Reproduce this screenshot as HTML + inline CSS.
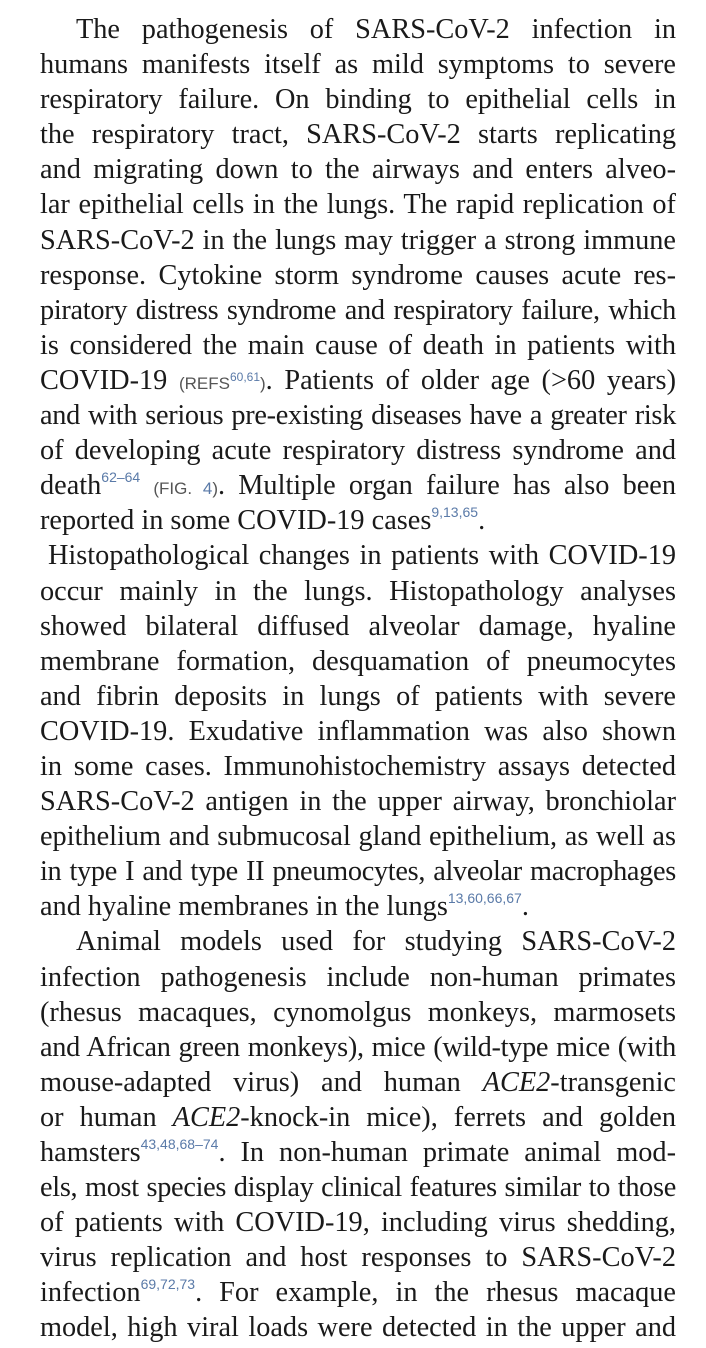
<!DOCTYPE html>
<html><head><meta charset="utf-8">
<style>
html,body{margin:0;padding:0;background:#fff;}
body{width:706px;height:1348px;overflow:hidden;}
#page{position:absolute;left:40px;top:12px;width:636px;font-family:"Liberation Serif",serif;font-size:28.3px;line-height:35.1px;color:#1a1a1a;}
.l{display:block;height:35.1px;white-space:nowrap;text-align:justify;text-align-last:justify;}
.e{text-align-last:left;}
.t{letter-spacing:-0.3px;}
.i1{padding-left:36px;}
.i2{padding-left:8px;}
sup{font-family:"Liberation Sans",sans-serif;font-size:14px;color:#5a7aa8;vertical-align:0;position:relative;top:-12px;line-height:0;letter-spacing:0;}
.r{font-family:"Liberation Sans",sans-serif;font-size:17px;color:#555;}
.r b{font-weight:normal;color:#5a7aa8;}
.r sup{font-size:12px;top:-8px;}
</style></head><body>
<div id="page">
<div class="l i1">The pathogenesis of SARS-CoV-2 infection in</div>
<div class="l">humans manifests itself as mild symptoms to severe</div>
<div class="l">respiratory failure. On binding to epithelial cells in</div>
<div class="l">the respiratory tract, SARS-CoV-2 starts replicating</div>
<div class="l">and migrating down to the airways and enters alveo-</div>
<div class="l">lar epithelial cells in the lungs. The rapid replication of</div>
<div class="l">SARS-CoV-2 in the lungs may trigger a strong immune</div>
<div class="l">response. Cytokine storm syndrome causes acute res-</div>
<div class="l t">piratory distress syndrome and respiratory failure, which</div>
<div class="l">is considered the main cause of death in patients with</div>
<div class="l">COVID-19 <span class="r">(REFS<sup>60,61</sup>)</span>. Patients of older age (&gt;60 years)</div>
<div class="l t">and with serious pre-existing diseases have a greater risk</div>
<div class="l">of developing acute respiratory distress syndrome and</div>
<div class="l">death<sup>62–64</sup> <span class="r">(FIG. <b>4</b>)</span>. Multiple organ failure has also been</div>
<div class="l e">reported in some COVID-19 cases<sup>9,13,65</sup>.</div>
<div class="l i2">Histopathological changes in patients with COVID-19</div>
<div class="l">occur mainly in the lungs. Histopathology analyses</div>
<div class="l">showed bilateral diffused alveolar damage, hyaline</div>
<div class="l">membrane formation, desquamation of pneumocytes</div>
<div class="l">and fibrin deposits in lungs of patients with severe</div>
<div class="l">COVID-19. Exudative inflammation was also shown</div>
<div class="l">in some cases. Immunohistochemistry assays detected</div>
<div class="l">SARS-CoV-2 antigen in the upper airway, bronchiolar</div>
<div class="l">epithelium and submucosal gland epithelium, as well as</div>
<div class="l t">in type I and type II pneumocytes, alveolar macrophages</div>
<div class="l e">and hyaline membranes in the lungs<sup>13,60,66,67</sup>.</div>
<div class="l i1">Animal models used for studying SARS-CoV-2</div>
<div class="l">infection pathogenesis include non-human primates</div>
<div class="l">(rhesus macaques, cynomolgus monkeys, marmosets</div>
<div class="l t">and African green monkeys), mice (wild-type mice (with</div>
<div class="l">mouse-adapted virus) and human <i>ACE2</i>-transgenic</div>
<div class="l">or human <i>ACE2</i>-knock-in mice), ferrets and golden</div>
<div class="l">hamsters<sup>43,48,68–74</sup>. In non-human primate animal mod-</div>
<div class="l t">els, most species display clinical features similar to those</div>
<div class="l">of patients with COVID-19, including virus shedding,</div>
<div class="l">virus replication and host responses to SARS-CoV-2</div>
<div class="l">infection<sup>69,72,73</sup>. For example, in the rhesus macaque</div>
<div class="l">model, high viral loads were detected in the upper and</div>
</div>
</body></html>
